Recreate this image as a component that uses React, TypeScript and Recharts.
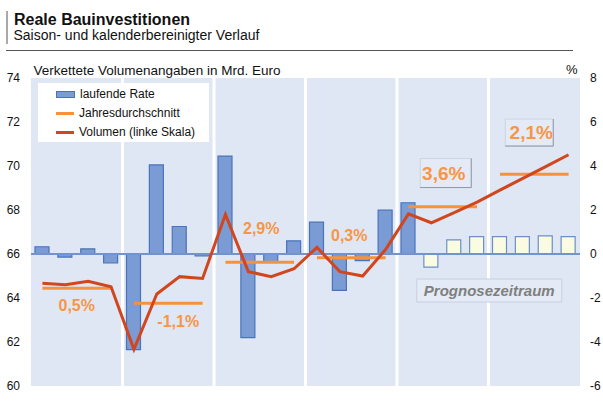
import React from 'react';
import {
  ComposedChart,
  Bar,
  Line,
  XAxis,
  YAxis,
  CartesianGrid,
  ReferenceLine,
  ReferenceDot,
  Cell,
} from 'recharts';

const years = ['2012', '2013', '2014', '2015', '2016', '2017'];
const quarterNames = ['Q1', 'Q2', 'Q3', 'Q4'];
// laufende Rate (%), right axis
const rateValues = [
  0.33, -0.14, 0.23, -0.41,
  -4.35, 4.05, 1.25, -0.09,
  4.45, -3.8, -0.35, 0.6,
  1.45, -1.65, -0.3, 1.99,
  2.33, -0.6, 0.64, 0.79,
  0.79, 0.79, 0.82, 0.79,
];
// Volumen (Mrd. Euro), left axis
const volumeValues = [
  64.67, 64.6, 64.76, 64.51,
  61.67, 64.18, 64.97, 64.89,
  67.8, 65.2, 64.97, 65.33,
  66.3, 65.2, 65.0, 66.2,
  67.82, 67.42, 67.88, 68.36,
  68.9, 69.44, 69.97, 70.51,
];
// Jahresdurchschnitt (Mrd. Euro), left axis
const annualAverage = [64.44, 63.76, 65.62, 65.83, 68.15, 69.62];
const annualGrowth = ['0,5%', '-1,1%', '2,9%', '0,3%', '3,6%', '2,1%'];
const firstForecastIndex = 17;
const leftTicks = [60, 62, 64, 66, 68, 70, 72, 74];
const rightTicks = [-6, -4, -2, 0, 2, 4, 6, 8];
const seriesNames = ['laufende Rate', 'Jahresdurchschnitt', 'Volumen (linke Skala)'];
const forecastText = 'Prognosezeitraum';

const data = rateValues.map((rate, i) => {
  const yi = Math.floor(i / 4);
  return {
    quarter: `${years[yi]} ${quarterNames[i % 4]}`,
    year: years[yi],
    rate,
    volume: volumeValues[i],
    avgEven: yi % 2 === 0 ? annualAverage[yi] : null,
    avgOdd: yi % 2 === 1 ? annualAverage[yi] : null,
    forecast: i >= firstForecastIndex,
  };
});

// label placement (annotation layout)
const growthLabelLayout = [
  { y: 63.65, dx: 0, size: 16, box: null },
  { y: 62.92, dx: 10, size: 16, box: null },
  { y: 67.17, dx: 1.5, size: 16, box: null },
  { y: 66.86, dx: -2, size: 16, box: null },
  { y: 69.68, dx: 1, size: 19, box: { w: 51, h: 29, dx: 2 } },
  { y: 71.52, dx: -3, size: 19, box: { w: 48, h: 27, dx: -2 } },
];

const BAR_FILL = '#7A9BD3';
const BAR_STROKE = '#4A74BA';
const FC_FILL = '#FBFBE4';
const FC_STROKE = '#6E8FC6';
const BG = '#DFE7F4';
const AVG = '#F7923A';
const VOL = '#D2461E';
const LABEL = '#F79646';
const FONT = '"Liberation Sans", Arial, sans-serif';

const makeGrowthShape = (text: string, layout: any) => (props: any) => {
  const { cx, cy } = props;
  const x = cx + layout.dx;
  const b = layout.box;
  return (
    <g>
      {b && (
        <g>
          <rect
            x={x + b.dx - b.w / 2}
            y={cy - b.h / 2}
            width={b.w}
            height={b.h}
            fill="#E4EBF6"
            stroke="#CBD4E4"
            strokeWidth={1}
          />
          <path
            d={`M${x + b.dx + b.w / 2},${cy - b.h / 2} L${x + b.dx + b.w / 2},${cy + b.h / 2} L${x + b.dx - b.w / 2},${cy + b.h / 2}`}
            fill="none"
            stroke="#8E98A8"
            strokeWidth={1}
          />
        </g>
      )}
      <text
        x={x}
        y={cy}
        textAnchor="middle"
        dominantBaseline="central"
        fontFamily={FONT}
        fontWeight="bold"
        fontSize={layout.size}
        fill={LABEL}
      >
        {text}
      </text>
    </g>
  );
};

const ForecastShape = (props: any) => {
  const { cx, cy } = props;
  const x = cx - 45;
  return (
    <g>
      <rect x={x - 72.5} y={cy - 11.5} width={145} height={23} fill="#E4EBF6" stroke="#C7D0DF" strokeWidth={1} />
      <text
        x={x}
        y={cy}
        textAnchor="middle"
        dominantBaseline="central"
        fontFamily={FONT}
        fontWeight="bold"
        fontStyle="italic"
        fontSize={15}
        fill="#7F7F7F"
      >
        {forecastText}
      </text>
    </g>
  );
};

const YearTick = (props: any) => {
  const { x, y, payload } = props;
  return (
    <text x={x} y={y} dy={7} textAnchor="middle" fontFamily={FONT} fontSize={13} fill="#111">
      {payload.value}
    </text>
  );
};

const Legend = () => (
  <div
    style={{
      position: 'absolute',
      left: 38,
      top: 83,
      width: 171,
      height: 59,
      background: '#fff',
      fontFamily: FONT,
      fontSize: 12,
      color: '#111',
    }}
  >
    {seriesNames.map((name, i) => (
      <div key={name} style={{ position: 'absolute', left: 18, top: 4 + i * 19, height: 14, display: 'flex', alignItems: 'center' }}>
        {i === 0 ? (
          <div style={{ width: 17, height: 5, background: BAR_FILL, border: `1px solid ${BAR_STROKE}` }} />
        ) : (
          <div style={{ width: 18, height: 3, background: i === 1 ? AVG : VOL }} />
        )}
        <span style={{ marginLeft: 5, whiteSpace: 'nowrap' }}>{name}</span>
      </div>
    ))}
  </div>
);

export default function App() {
  return (
    <div style={{ position: 'absolute', left: 0, top: 0, width: 603, height: 403, background: '#fff', fontFamily: FONT }}>
      <ComposedChart
        width={603}
        height={403}
        data={data}
        margin={{ top: 78, right: 0, bottom: 0, left: 0 }}
        barSize={14}
      >
        <CartesianGrid xAxisId="q" yAxisId="l" horizontal={false} vertical={false} fill={BG} stroke="none" />
        <XAxis xAxisId="q" dataKey="quarter" hide />
        <XAxis
          xAxisId="years"
          dataKey="year"
          allowDuplicatedCategory={false}
          axisLine={false}
          tickLine={false}
          tickSize={0}
          tickMargin={0}
          height={17}
          interval={0}
          tick={<YearTick />}
        />
        <YAxis
          yAxisId="l"
          orientation="left"
          width={31}
          domain={[60, 74]}
          ticks={leftTicks}
          axisLine={false}
          tickLine={false}
          tickSize={6}
          tickMargin={5}
          interval={0}
          tick={{ fontSize: 12, fill: '#111', fontFamily: FONT }}
        />
        <YAxis
          yAxisId="r"
          orientation="right"
          width={23}
          domain={[-6, 8]}
          ticks={rightTicks}
          axisLine={false}
          tickLine={false}
          tickSize={6}
          tickMargin={4}
          interval={0}
          tick={{ fontSize: 12, fill: '#111', fontFamily: FONT, textAnchor: 'start' }}
        />
        {years.slice(1).map((y) => (
          <ReferenceLine
            key={y}
            xAxisId="q"
            yAxisId="l"
            x={`${y} Q1`}
            position="start"
            stroke="#fff"
            strokeWidth={3}
          />
        ))}
        <Bar xAxisId="q" yAxisId="r" dataKey="rate" isAnimationActive={false} strokeWidth={1.2}>
          {data.map((d, i) => (
            <Cell key={i} fill={d.forecast ? FC_FILL : BAR_FILL} stroke={d.forecast ? FC_STROKE : BAR_STROKE} />
          ))}
        </Bar>
        <ReferenceLine xAxisId="q" yAxisId="r" y={0} stroke="#7393CE" strokeWidth={2} />
        <Line xAxisId="q" yAxisId="l" dataKey="avgEven" stroke={AVG} strokeWidth={3} dot={false} isAnimationActive={false} connectNulls={false} />
        <Line xAxisId="q" yAxisId="l" dataKey="avgOdd" stroke={AVG} strokeWidth={3} dot={false} isAnimationActive={false} connectNulls={false} />
        <Line xAxisId="q" yAxisId="l" dataKey="volume" stroke={VOL} strokeWidth={3} dot={false} isAnimationActive={false} strokeLinejoin="miter" />
        {annualGrowth.map((t, i) => (
          <ReferenceDot
            key={t}
            xAxisId="years"
            yAxisId="l"
            x={years[i]}
            y={growthLabelLayout[i].y}
            r={0}
            shape={makeGrowthShape(t, growthLabelLayout[i])}
          />
        ))}
        <ReferenceDot xAxisId="years" yAxisId="l" x="2017" y={64.34} r={0} shape={ForecastShape} />
      </ComposedChart>
      <svg width={603} height={403} style={{ position: 'absolute', left: 0, top: 0, pointerEvents: 'none' }}>
        <line x1={7} y1={11} x2={7} y2={44} stroke="#555" strokeWidth={1} />
        <line x1={6} y1={50.5} x2={573} y2={50.5} stroke="#555" strokeWidth={1} />
        <text x={14} y={25} fontFamily={FONT} fontWeight="bold" fontSize={16} fill="#111">Reale Bauinvestitionen</text>
        <text x={13.5} y={40} fontFamily={FONT} fontSize={14} fill="#111">Saison- und kalenderbereinigter Verlauf</text>
        <text x={33.5} y={74.5} fontFamily={FONT} fontSize={13.5} fill="#111">Verkettete Volumenangaben in Mrd. Euro</text>
        <text x={566} y={74} fontFamily={FONT} fontSize={13} fill="#111">%</text>
      </svg>
      <Legend />
    </div>
  );
}
